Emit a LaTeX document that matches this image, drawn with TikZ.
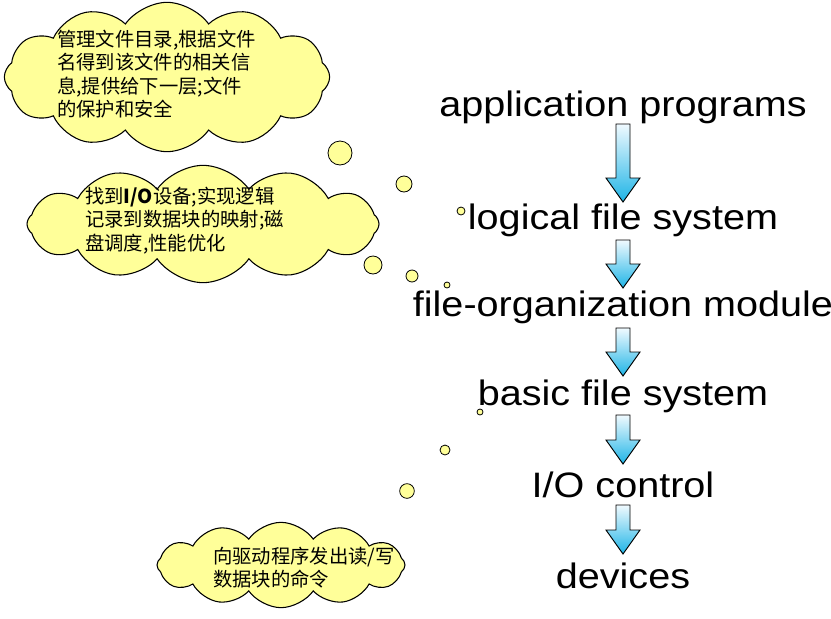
\documentclass[tikz,border=0pt]{standalone}
\usepackage{fontspec}
\setmainfont{Liberation Sans}
\newfontfamily\cjk{Noto Sans CJK SC}
\newfontfamily\lbl[FakeStretch=1.12]{Liberation Sans}
\usetikzlibrary{shapes.symbols}
\definecolor{cloudy}{HTML}{FFFF99}
\definecolor{arrtop}{HTML}{F0FAFF}
\definecolor{arrbot}{HTML}{1EB4E6}
\tikzset{
  x=0.75pt,y=-0.75pt,
  cloudbox/.style={cloud,cloud puffs=12,cloud puff arc=110,draw=black,fill=cloudy,inner sep=0pt,line width=0.8pt},
  bub/.style={circle,draw=black,fill=cloudy,inner sep=0pt,line width=0.6pt},
  ctext/.style={anchor=north west,align=left,font=\cjk\fontsize{14.5}{17.5}\selectfont,inner sep=0pt},
  layer/.style={font=\lbl\fontsize{26.5}{30}\selectfont,inner sep=0pt}
}
\newcommand{\downarr}[3]{% x, ytop, ybot
  \shade[top color=arrtop,bottom color=arrbot,draw=black,line width=0.7pt]
   (#1-7,#2) -- (#1+7,#2) -- (#1+7,#3-24) -- (#1+17,#3-24) -- (#1,#3) -- (#1-17,#3-24) -- (#1-7,#3-24) -- cycle;}
\begin{document}
\begin{tikzpicture}
\useasboundingbox (0,0) rectangle (831,618);
\node[cloudbox,aspect=2.1,minimum width=244pt,minimum height=112pt] (c1) at (167,77) {};
\node[cloudbox,aspect=3,minimum width=264pt,minimum height=88pt] (c2) at (203,224) {};
\node[cloudbox,aspect=3,minimum width=186pt,minimum height=64pt] (c3) at (281,565) {};
\node[ctext] (t1) at (57,30) {管理文件目录,根据文件\\名得到该文件的相关信\\息,提供给下一层;文件\\的保护和安全};
\node[ctext] (t2) at (85,187) {找到\textbf{I/O}设备;实现逻辑\\记录到数据块的映射;磁\\盘调度,性能优化};
\node[ctext] (t3) at (213,547) {向驱动程序发出读/写\\数据块的命令};
\node[bub,minimum size=18pt] (b1) at (340,153) {};
\node[bub,minimum size=12pt] (b2) at (404,184) {};
\node[bub,minimum size=6pt] (b3) at (461,211) {};
\node[bub,minimum size=13.5pt] (b4) at (373,265) {};
\node[bub,minimum size=9pt] (b5) at (412,276) {};
\node[bub,minimum size=4.5pt] (b6) at (447,285) {};
\node[bub,minimum size=4.5pt] (b7) at (480,412) {};
\node[bub,minimum size=7.5pt] (b8) at (445,450) {};
\node[bub,minimum size=11pt] (b9) at (407,491) {};
\node[layer] (l1) at (623,107) {application programs};
\node[layer] (l2) at (623,220) {logical file system};
\node[layer] (l3) at (623,307) {file-organization module};
\node[layer] (l4) at (623,396) {basic file system};
\node[layer] (l5) at (623,485) {I/O control};
\node[layer] (l6) at (623,576) {devices};
\downarr{623}{124}{202}
\downarr{623}{240}{288}
\downarr{623}{328}{376}
\downarr{623}{415}{464}
\downarr{623}{505}{554}
\end{tikzpicture}
\end{document}
